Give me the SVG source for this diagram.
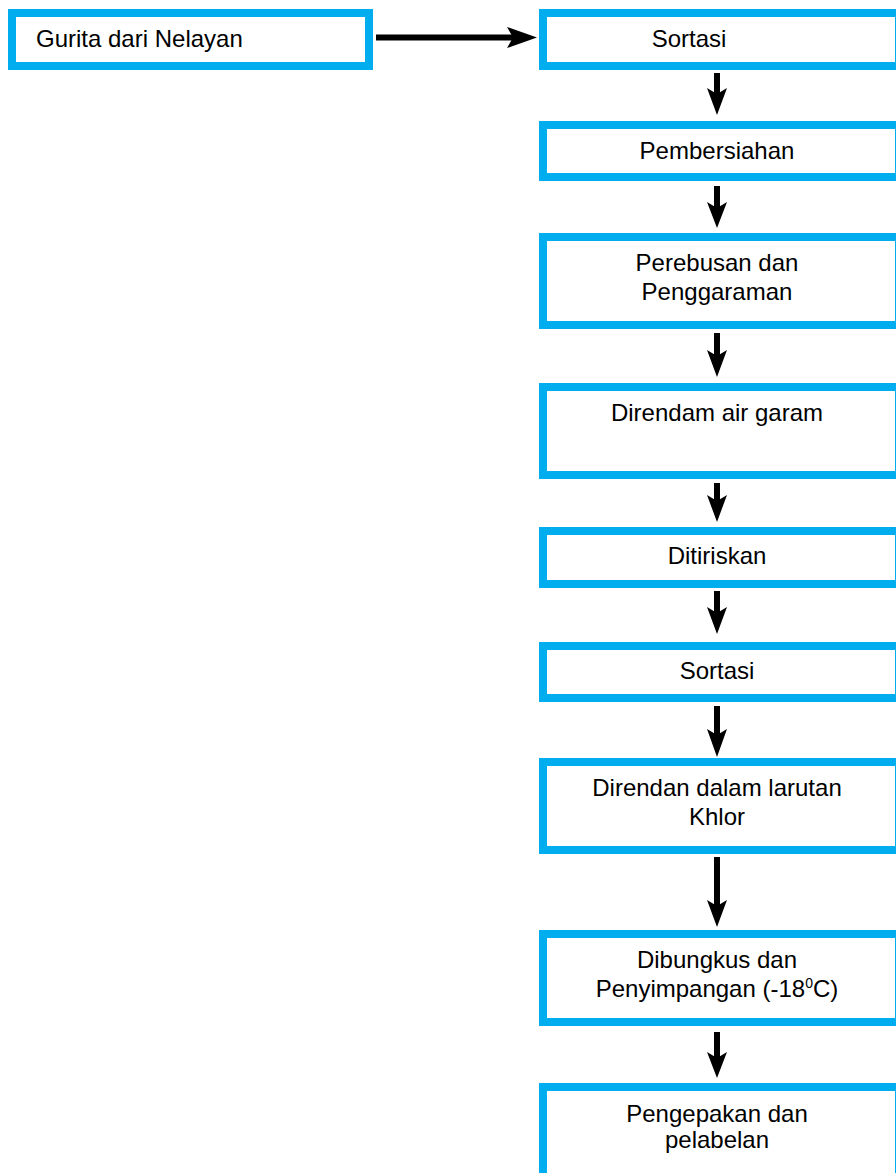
<svg xmlns="http://www.w3.org/2000/svg" width="896" height="1173" viewBox="0 0 896 1173">
  <style>
    .box { fill: #ffffff; stroke: #00aeef; stroke-width: 8; }
    .lbl { font-family: "Liberation Sans", Arial, sans-serif; font-size: 24px; fill: #000000; }
    .mid { text-anchor: middle; }
    .shaft { stroke: #000000; stroke-width: 6; fill: none; }
    .head { fill: #000000; }
    .sup { font-size: 14px; }
  </style>
  <rect width="896" height="1173" fill="#ffffff"/>

  <!-- source node -->
  <g id="n-gurita">
    <rect class="box" x="12" y="13" width="357" height="53"/>
    <text class="lbl" x="36" y="47">Gurita dari Nelayan</text>
  </g>

  <!-- process column -->
  <g id="n-sortasi1">
    <rect class="box" x="543" y="13" width="356" height="53"/>
    <text class="lbl mid" x="689" y="47">Sortasi</text>
  </g>
  <g id="n-pembersiahan">
    <rect class="box" x="543" y="125" width="356" height="52"/>
    <text class="lbl mid" x="717" y="159">Pembersiahan</text>
  </g>
  <g id="n-perebusan">
    <rect class="box" x="543" y="237" width="356" height="88"/>
    <text class="lbl mid" x="717" y="271">Perebusan dan</text>
    <text class="lbl mid" x="717" y="300">Penggaraman</text>
  </g>
  <g id="n-direndam">
    <rect class="box" x="543" y="387" width="356" height="88"/>
    <text class="lbl mid" x="717" y="421">Direndam air garam</text>
  </g>
  <g id="n-ditiriskan">
    <rect class="box" x="543" y="531" width="356" height="53"/>
    <text class="lbl mid" x="717" y="564">Ditiriskan</text>
  </g>
  <g id="n-sortasi2">
    <rect class="box" x="543" y="646" width="356" height="52"/>
    <text class="lbl mid" x="717" y="679">Sortasi</text>
  </g>
  <g id="n-khlor">
    <rect class="box" x="543" y="762" width="356" height="88"/>
    <text class="lbl mid" x="717" y="796">Direndan dalam larutan</text>
    <text class="lbl mid" x="717" y="825">Khlor</text>
  </g>
  <g id="n-dibungkus">
    <rect class="box" x="543" y="934" width="356" height="88"/>
    <text class="lbl mid" x="717" y="968">Dibungkus dan</text>
    <text class="lbl mid" x="717" y="997">Penyimpangan (-18<tspan class="sup" dy="-9">0</tspan><tspan dy="9">C)</tspan></text>
  </g>
  <g id="n-pengepakan">
    <rect class="box" x="543" y="1087" width="356" height="96"/>
    <text class="lbl mid" x="717" y="1122">Pengepakan dan</text>
    <text class="lbl mid" x="717" y="1148">pelabelan</text>
  </g>

  <!-- connectors: shaft plus a slightly swept-back head -->
  <g id="connectors">
    <line class="shaft" x1="376" y1="37.5" x2="514" y2="37.5"/>
    <polygon class="head" points="507,27 537,37.5 507,48 513,37.5"/>

    <line class="shaft" x1="717" y1="73" x2="717" y2="94"/>
    <polygon class="head" points="707,88 717,94 727,88 717,115"/>

    <line class="shaft" x1="717" y1="186" x2="717" y2="208"/>
    <polygon class="head" points="707,202 717,208 727,202 717,228"/>

    <line class="shaft" x1="717" y1="333" x2="717" y2="356"/>
    <polygon class="head" points="707,350 717,356 727,350 717,377"/>

    <line class="shaft" x1="717" y1="483" x2="717" y2="501"/>
    <polygon class="head" points="707,495 717,501 727,495 717,522"/>

    <line class="shaft" x1="717" y1="591" x2="717" y2="613"/>
    <polygon class="head" points="707,607 717,613 727,607 717,634"/>

    <line class="shaft" x1="717" y1="706" x2="717" y2="735"/>
    <polygon class="head" points="707,729 717,735 727,729 717,757"/>

    <line class="shaft" x1="717" y1="857" x2="717" y2="906"/>
    <polygon class="head" points="707,900 717,906 727,900 717,927"/>

    <line class="shaft" x1="717" y1="1032" x2="717" y2="1058"/>
    <polygon class="head" points="707,1052 717,1058 727,1052 717,1078"/>
  </g>
</svg>
